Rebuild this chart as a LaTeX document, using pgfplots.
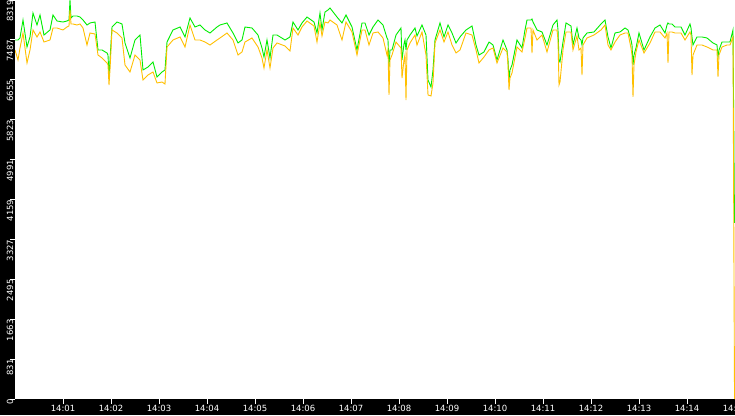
\documentclass[border=0pt]{standalone}
\usepackage{fontspec}
\setmainfont{DejaVu Sans}
\usepackage{pgfplots}
\pgfplotsset{compat=1.18}
\definecolor{lgreen}{HTML}{00EE00}
\definecolor{lorange}{HTML}{FFC000}

% time in seconds after 14:00:00
\pgfplotstableread{
t      green  orange
0      7485   7277
3.75   7485   7068
6.25   7527   7318
10     7902   7631
15     7339   7006
18.75  7548   7277
22.5   8048   7694
27.5   7798   7548
31.25  8006   7652
36.25  7589   7443
43.75  7694   7485
47.5   8006   7735
52.5   7881   7735
60     7860   7694
65     7881   7756
67.5   7902   7777
68.75  8319   8111
70     7944   7819
72.5   7985   7819
77.5   7985   7798
81.25  7964   7819
85     7902   7735
90     7798   7381
93.75  7840   7631
100    7860   7610
103.75 7277   7172
108.75 7277   7110
115    7214   7006
116.25 7172   6964
117.5  6734   6547
118.75 7068   6860
121.25 7756   7694
127.5  7860   7631
133.75 7819   7527
137.5  7423   6964
143.75 7110   6818
150    7485   7172
156.25 7589   7068
160    6860   6651
166.25 6922   6755
172.5  7026   6818
177.5  6714   6589
183.75 6818   6609
187.5  6860   6568
190    7443   7339
197.5  7694   7485
206.25 7756   7548
212.5  7548   7339
218.75 7944   7798
225    7756   7485
231.25 7798   7485
237.5  7694   7443
243.75 7631   7381
252.5  7756   7485
256.25 7798   7527
265    7840   7631
272.5  7631   7485
278.75 7423   7172
283.75 7485   7235
287.5  7756   7443
296.25 7735   7527
303.75 7589   7339
308.75 7318   7110
311.25 7131   6901
315    7485   7277
318.75 7110   6901
322.5  7589   7318
327.5  7589   7423
337.5  7485   7360
343.75 7548   7256
347.5  7860   7735
353.75 7694   7589
358.75 7840   7756
365    7964   7881
373.75 7860   7777
377.5  7631   7443
381.25 8048   7840
383.75 7694   7569
387.5  8069   7860
391.25 8111   7840
393.75 8152   7902
402.5  7964   7798
408.75 7840   7485
413.75 8006   7860
421.25 7756   7652
427.5  7277   7172
433.75 7840   7694
437.5  7840   7694
442.5  7589   7381
447.5  7756   7631
453.75 7902   7652
460    7798   7527
465    7527   7172
466.25 7485   7277
467.5  6922   6339
468.75 7277   7068
471.25 7277   7172
476.25 7589   7443
482.5  7735   7318
483.75 7068   6693
486.25 7402   7068
487.5  7485   7172
488.75 7277   6234
490    7485   7277
493.75 7589   7423
500    7735   7589
502.5  7569   7381
508.75 7798   7652
513.75 7589   7172
516.25 6651   6339
520    6505   6318
522.5  6860   6589
525    7485   7423
531.25 7840   7694
536.25 7548   7443
541.25 7798   7652
546.25 7631   7381
551.25 7423   7214
556.25 7548   7277
563.75 7694   7631
571.25 7777   7589
576.25 7381   7277
580    7172   7006
586.25 7235   7131
592.5  7443   7277
597.5  7381   7318
602.5  7068   7006
610    7485   7318
615    7277   7235
616.25 7068   6964
617.5  6651   6443
618.75 6860   6693
621.25 6964   6797
627.5  7485   7339
633.75 7318   7235
637.5  7694   7527
640    7902   7735
645    7902   7735
646.25 7923   7214
647.5  7860   7694
652.5  7694   7485
658.75 7652   7589
665    7381   7235
672.5  7798   7694
677.5  7902   7694
678.75 7694   7485
680    7068   6547
681.25 7026   6609
685    7443   7277
688.75 7840   7652
695    7777   7652
697.5  7381   7277
702.5  7735   7569
705    7527   7277
707.5  7485   7318
708.75 7381   6755
710    7527   7381
715    7631   7527
723.75 7652   7589
732.5  7819   7694
737.5  7902   7798
741.25 7548   7381
745    7318   7277
750    7631   7443
756.25 7652   7589
762.5  7735   7631
766.25 7694   7631
770    7485   7318
771.25 7381   7172
772.5  6964   6297
773.75 7172   6964
776.25 7318   7235
780    7631   7485
786.25 7277   7214
793.75 7548   7423
800    7735   7652
806.25 7798   7652
812.5  7631   7527
815    7798   7631
816.25 7840   7006
817.5  7819   7652
821.25 7819   7652
825    7756   7631
832.5  7756   7631
837.5  7589   7485
843.75 7819   7652
845    7735   7589
846.25 7548   6755
847.5  7381   7172
852.5  7548   7381
858.75 7548   7381
865    7527   7339
872.5  7423   7277
877.5  7381   7277
878.75 7131   6714
880    7277   7172
883.75 7443   7339
890    7443   7381
893.75 7443   7381
897.5  7694   7548
899.4  3670   0
}\speed

\begin{document}
\begin{tikzpicture}
\useasboundingbox (-15pt,-16pt) rectangle (720pt,399pt);
\fill[black] (-15pt,-16pt) rectangle (720pt,399pt);
\begin{axis}[
  at={(0pt,0pt)}, anchor=south west,
  scale only axis, width=720pt, height=399pt,
  xmin=0, xmax=900, ymin=0, ymax=8319,
  axis background/.style={fill=white},
  axis line style={draw=none},
  tick align=outside,
  major tick length=5pt,
  tick style={white, line width=0.8pt},
  xtick pos=bottom, ytick pos=left,
  xtick={60,120,180,240,300,360,420,480,540,600,660,720,780,840,900},
  xticklabels={14:01,14:02,14:03,14:04,14:05,14:06,14:07,14:08,14:09,14:10,14:11,14:12,14:13,14:14,14:15},
  ytick={0,831,1663,2495,3327,4159,4991,5823,6655,7487,8319},
  yticklabels={0,831,1663,2495,3327,4159,4991,5823,6655,7487,8319},
  ticklabel style={font=\fontsize{8.5}{9}\selectfont, text=white},
  xticklabel style={inner sep=0pt, anchor=north, yshift=-1pt},
  yticklabel style={inner sep=0pt, anchor=east, rotate=90, xshift=0pt},
  every axis plot/.append style={line width=0.9pt},
]
\addplot[lgreen] table[x=t, y=green] {\speed};
\addplot[lorange] table[x=t, y=orange] {\speed};
\end{axis}
\end{tikzpicture}
\end{document}
